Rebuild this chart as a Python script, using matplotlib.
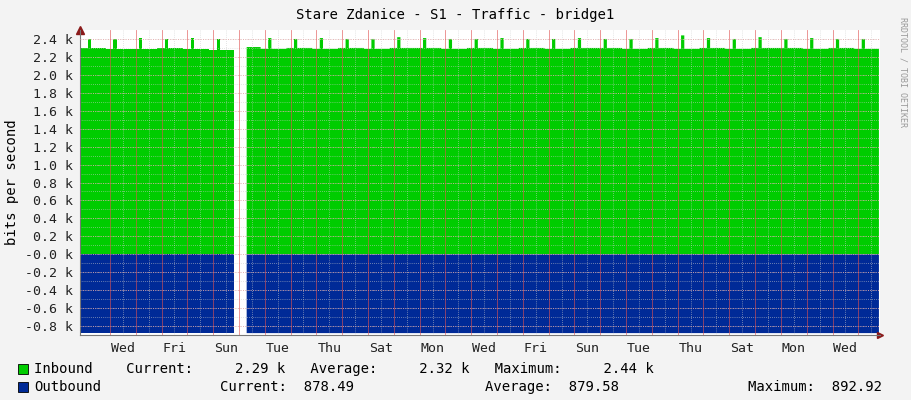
import numpy as np
import matplotlib
matplotlib.use("Agg")
import matplotlib.pyplot as plt
from matplotlib.patches import Rectangle

# daily inbound base level and daily spike peak (k bits/s), 31 days
inbound_base = [2.30, 2.29, 2.29, 2.30, 2.29, 2.28, 2.31, 2.29, 2.30, 2.29, 2.30, 2.29,
                2.30, 2.30, 2.29, 2.30, 2.29, 2.30, 2.29, 2.30, 2.30, 2.29, 2.30, 2.29,
                2.30, 2.29, 2.30, 2.30, 2.29, 2.30, 2.29]
inbound_peak = [2.40, 2.40, 2.41, 2.40, 2.41, 2.40, 2.40, 2.41, 2.40, 2.41, 2.40, 2.40,
                2.42, 2.41, 2.40, 2.40, 2.41, 2.40, 2.40, 2.41, 2.40, 2.40, 2.41, 2.44,
                2.41, 2.40, 2.42, 2.40, 2.41, 2.40, 2.40]
# outbound (negative, k bits/s)
outbound_base = [-0.879] * 31
gap_start, gap_end = 5.97, 6.43   # days with no data
midnight0 = 1.16                  # first midnight (days from left edge)
day_labels = ["Wed", "Fri", "Sun", "Tue", "Thu", "Sat", "Mon", "Wed",
              "Fri", "Sun", "Tue", "Thu", "Sat", "Mon", "Wed"]

# hourly series built from the daily values
t = np.arange(0, 31, 1 / 24)
day = np.minimum(t.astype(int), 30)
frac = t - day
inb = np.where((frac > 0.25) & (frac < 0.38), np.take(inbound_peak, day), np.take(inbound_base, day))
outb = np.take(outbound_base, day).astype(float)
gap = (t > gap_start) & (t < gap_end)
inb[gap] = np.nan
outb[gap] = np.nan

plt.rcParams['font.family'] = ['DejaVu Sans Mono']
fig = plt.figure(figsize=(9.11, 4.0), dpi=100, facecolor='#f3f3f3')
ax = fig.add_axes([80 / 911, 65 / 400, 800 / 911, 305 / 400])
ax.set_facecolor('white')
ax.fill_between(t, 0, inb, color='#00cc00', step='post', lw=0)
ax.fill_between(t, 0, outb, color='#002a97', step='post', lw=0)
ax.set_xlim(0, 31)
ax.set_ylim(-0.9, 2.5)

# grids
for y in np.arange(-0.8, 2.41, 0.2):
    ax.axhline(y, color='#e8a0a0', lw=0.6, ls=(0, (1, 2)), zorder=3)
for y in np.arange(-0.9, 2.5, 0.1):
    ax.axhline(y, color='#cccccc', lw=0.5, ls=(0, (1, 2)), zorder=2)
mids = midnight0 + np.arange(0, 30)
for m in mids:
    ax.axvline(m, color='#e05050', lw=0.6, alpha=0.7, zorder=3)
    ax.axvline(m + 0.5, color='#cccccc', lw=0.5, ls=(0, (1, 2)), zorder=2)
ax.set_yticks(np.round(np.arange(-0.8, 2.41, 0.2), 1))
ax.set_yticklabels([f"{v:.1f} k" for v in np.arange(-0.8, 2.41, 0.2)])
ax.set_xticks(midnight0 + 0.5 + 2 * np.arange(len(day_labels)))
ax.set_xticklabels(day_labels)
ax.tick_params(length=0, labelsize=9.5, colors='#222222', pad=5)
for s in ['top', 'right']:
    ax.spines[s].set_visible(False)
for s in ['left', 'bottom']:
    ax.spines[s].set_color('#777777')
    ax.spines[s].set_linewidth(0.8)
ax.plot(0, 1, marker='^', color='#8b1a1a', ms=6, transform=ax.transAxes, clip_on=False)
ax.plot(1, 0, marker='>', color='#8b1a1a', ms=5, transform=ax.transAxes, clip_on=False)
ax.set_ylabel('bits per second', fontsize=10, labelpad=4)

fig.text(0.5, 385 / 400, 'Stare Zdanice - S1 - Traffic - bridge1', ha='center', va='center', fontsize=10)
fig.text(903 / 911, 0.82, 'RRDTOOL / TOBI OETIKER', rotation=270, ha='center', va='center',
         fontsize=6, color='#999999')

# legend
fig.patches.append(Rectangle((18 / 911, 26 / 400), 10 / 911, 10 / 400, transform=fig.transFigure,
                             facecolor='#00cc00', edgecolor='black', lw=0.6))
fig.patches.append(Rectangle((18 / 911, 8 / 400), 10 / 911, 10 / 400, transform=fig.transFigure,
                             facecolor='#002a97', edgecolor='black', lw=0.6))
fs = 10
fig.text(34 / 911, 31 / 400, 'Inbound    Current:     2.29 k   Average:     2.32 k   Maximum:     2.44 k',
         va='center', fontsize=fs)
fig.text(34 / 911, 13 / 400, 'Outbound', va='center', fontsize=fs)
fig.text(220 / 911, 13 / 400, 'Current:  878.49', va='center', fontsize=fs)
fig.text(485 / 911, 13 / 400, 'Average:  879.58', va='center', fontsize=fs)
fig.text(748 / 911, 13 / 400, 'Maximum:  892.92', va='center', fontsize=fs)

fig.savefig('out.png', dpi=100, facecolor=fig.get_facecolor())
